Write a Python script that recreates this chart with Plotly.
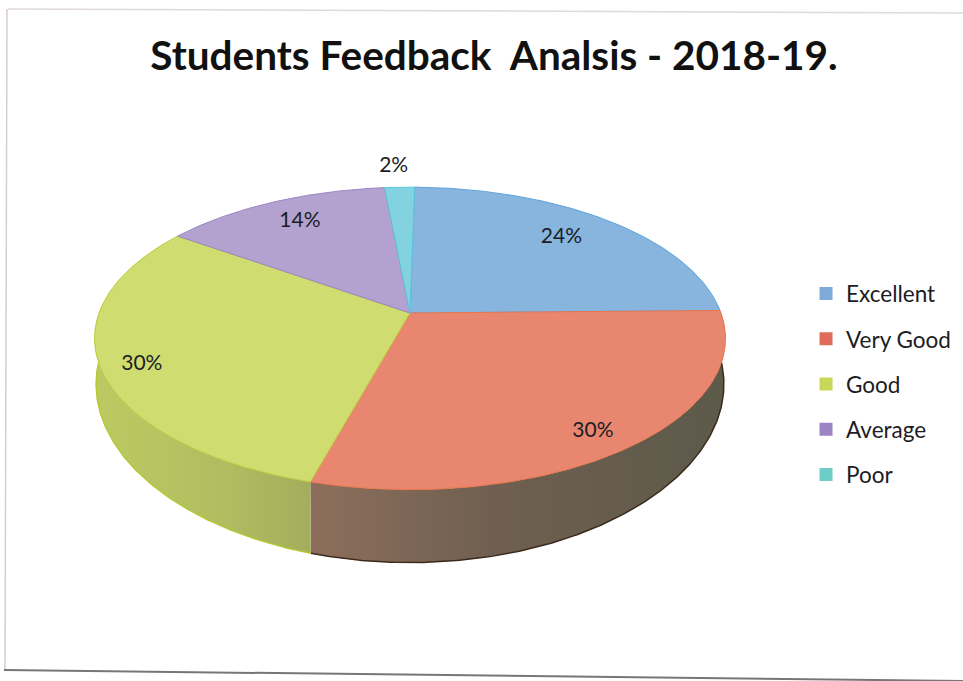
import numpy as np
import plotly.graph_objects as go

# ---- data ----
categories = ["Excellent", "Very Good", "Good", "Average", "Poor"]
shares = [24.45, 29.6, 30.4, 13.75, 1.8]
labels = ["24%", "30%", "30%", "14%", "2%"]

# ---- styles ----
top_colors = ["#87b5de", "#e8866f", "#cfdc70", "#b3a1cf", "#82d2df"]
edge_colors = ["#5ea3da", "#e8764e", "#bccb3c", "#9a86c4", "#5cc4da"]
legend_colors = ["#7fa9d8", "#df6b58", "#c8d65a", "#9c84c4", "#6fcdc8"]
label_reach_x = [0.77, 0.834, 0.864, 0.805, 1.57]
label_reach_y = [0.81, 0.888, 0.99, 0.82, 1.16]
side_gradients = {
    "Very Good": [[0, "#8d6e5c"], [0.45, "#6f5f50"], [1, "#5c5a4a"]],
    "Good": [[0, "#bcca62"], [0.6, "#b0bd60"], [1, "#a3ad5c"]],
}

# ---- projection of the tilted disc onto the pixel-sized axes ----
CX, CY = 410.0, 313.0
A, B, K = 311.0, 147.0, 0.168
DEPTH = 42.0
ROTATION = 1.0


def project(theta_deg):
    t = np.radians(theta_deg + ROTATION)
    u, v = np.sin(t), np.cos(t)
    w = 1 + K * v
    return CX + A * u / w, CY - B * v / w, w


def rim(a0, a1):
    n = max(int(abs(a1 - a0)) * 2, 6)
    return project(np.linspace(a0, a1, n))


edges = np.cumsum([0] + shares) / sum(shares) * 360.0
fig = go.Figure()

# side wall (visible lower half only)
for i, name in enumerate(categories):
    if name not in side_gradients:
        continue
    a0, a1 = edges[i], min(edges[i + 1], 272.0)
    x, y, w = rim(a0, a1)
    xb = CX + (x - CX) * 0.995
    yb = y + DEPTH / w**3
    fig.add_trace(go.Scatter(
        x=np.r_[x, xb[::-1], x[0]], y=np.r_[y, yb[::-1], y[0]],
        mode="lines", line=dict(width=0), fill="toself",
        fillgradient=dict(type="horizontal", colorscale=side_gradients[name]),
        name=name + " side", showlegend=False, hoverinfo="skip"))
    fig.add_trace(go.Scatter(
        x=xb, y=yb, mode="lines",
        line=dict(width=1.5, color="#3c2a1c" if name == "Very Good" else "#b5c832"),
        showlegend=False, hoverinfo="skip"))

# top face
for i, name in enumerate(categories):
    x, y, _ = rim(edges[i], edges[i + 1])
    fig.add_trace(go.Scatter(
        x=np.r_[CX, x, CX], y=np.r_[CY, y, CY],
        mode="lines", line=dict(width=1, color=edge_colors[i]),
        fill="toself", fillcolor=top_colors[i],
        name=name, text=labels[i], hoverinfo="name+text", showlegend=False))

# percentage labels
mid = (edges[:-1] + edges[1:]) / 2
mx, my, _ = project(mid)
fig.add_trace(go.Scatter(
    x=CX + (mx - CX) * np.array(label_reach_x),
    y=CY + (my - CY) * np.array(label_reach_y),
    mode="text", text=labels,
    textfont=dict(family="Lato, Open Sans, sans-serif", size=21, color="#1c1c24"),
    showlegend=False, hoverinfo="skip"))

# legend entries
for name, col in zip(categories, legend_colors):
    fig.add_trace(go.Scatter(
        x=[None], y=[None], mode="markers", name=name, legendgroup=name,
        marker=dict(symbol="square", size=13, color=col)))

# paper edges of the scan
shapes = [
    dict(type="line", x0=8, y0=9, x1=963, y1=13, line=dict(color="#e0d8dc", width=1.5)),
    dict(type="line", x0=7, y0=9, x1=5, y1=669, line=dict(color="#d8ccd0", width=1.5)),
    dict(type="line", x0=4, y0=670, x1=963, y1=681, line=dict(color="#77757a", width=2)),
]

fig.update_layout(
    width=963, height=681, autosize=False,
    margin=dict(l=0, r=0, t=0, b=0),
    paper_bgcolor="#ffffff", plot_bgcolor="#ffffff",
    title=dict(
        text="<b>Students Feedback  Analsis - 2018-19.</b>",
        x=0.513, xanchor="center", xref="paper", y=0.918, yanchor="middle", yref="paper",
        font=dict(family="Lato, Open Sans, sans-serif", size=40.5, color="#111111")),
    xaxis=dict(range=[0, 963], visible=False, fixedrange=True),
    yaxis=dict(range=[681, 0], visible=False, fixedrange=True),
    legend=dict(
        x=0.837, xanchor="left", y=0.6, yanchor="top", bgcolor="rgba(0,0,0,0)",
        font=dict(family="Lato, Open Sans, sans-serif", size=22.5, color="#1c1c24"),
        traceorder="grouped", tracegroupgap=13, itemclick=False, itemdoubleclick=False),
    shapes=shapes,
)

fig.write_html("out.html", config={"displayModeBar": False},
               post_script="document.body.style.margin='0';")
